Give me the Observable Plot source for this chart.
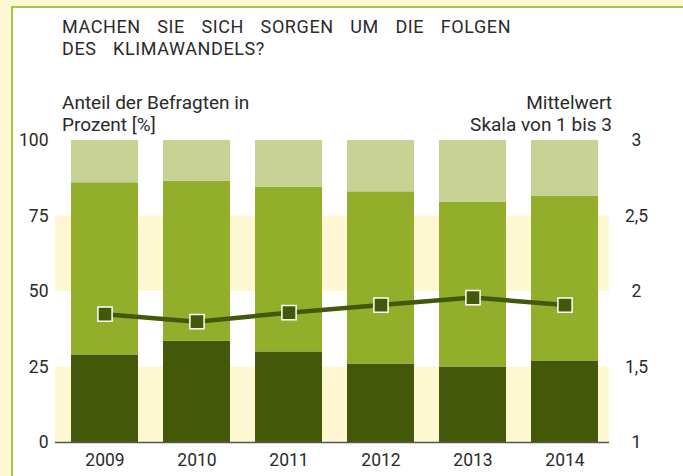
<!DOCTYPE html>
<html><head><meta charset="utf-8">
<script src="https://cdn.jsdelivr.net/npm/d3@7"></script>
<script src="https://cdn.jsdelivr.net/npm/@observablehq/plot@0.6"></script>
<style>
body{margin:0;background:#fdf8d2;width:683px;height:476px;overflow:hidden;position:relative;font-family:"Roboto",sans-serif;color:#2a2a2a}
#panel{position:absolute;left:11px;top:6px;width:700px;height:500px;background:#fff;border-left:2px solid #a9c24e;border-top:2px solid #a9c24e}
.t{position:absolute;white-space:nowrap}
#chart{position:absolute;left:0;top:0}
</style></head><body>
<div id="panel"></div>
<div class="t" style="left:62px;top:16px;font-size:18px;line-height:22px;letter-spacing:0.6px;word-spacing:11.5px">MACHEN SIE SICH SORGEN UM DIE FOLGEN<br>DES KLIMAWANDELS?</div>
<div class="t" style="left:62px;top:92px;font-size:19px;line-height:22px">Anteil der Befragten in<br>Prozent [%]</div>
<div class="t" style="right:71px;top:92px;font-size:19px;line-height:22px;text-align:right">Mittelwert<br>Skala von 1 bis 3</div>
<div id="chart"></div>
<script>
const years = ["2009","2010","2011","2012","2013","2014"];
const shareLow = [29, 33.5, 30, 26, 25, 27];
const shareMid = [57, 53, 54.5, 57, 54.5, 54.5];
const shareTop = [14, 13.5, 15.5, 17, 20.5, 18.5];
const means = [1.85, 1.80, 1.86, 1.91, 1.96, 1.91];
const leftTicks = [0, 25, 50, 75, 100];
const rightTickLabels = ["1", "1,5", "2", "2,5", "3"];
const groups = ["Stufe 1", "Stufe 2", "Stufe 3"];
const colors = ["#44580a", "#93ae2b", "#c6d193"];
const bandLo = [0, 50];
const bandHi = [25, 75];

const rows = [];
years.forEach((y, i) => {
  [shareLow, shareMid, shareTop].forEach((arr, k) => rows.push({year: y, group: groups[k], value: arr[i]}));
});
const meanRows = years.map((y, i) => ({year: y, mean: means[i]}));
const toPct = m => (m - 1) * 50;
const bands = bandLo.map((lo, i) => ({lo, hi: bandHi[i]}));

const chart = Plot.plot({
  width: 683, height: 476,
  marginLeft: 55, marginRight: 74, marginTop: 140, marginBottom: 34,
  style: {background: "transparent", fontFamily: '"Roboto",sans-serif', fontSize: "17.5px", color: "#2a2a2a", overflow: "visible"},
  x: {type: "band", domain: years, paddingInner: 0.27, paddingOuter: 0.12, align: 0.59, label: null},
  y: {domain: [0, 100], label: null},
  color: {domain: groups, range: colors},
  marks: [
    Plot.rect(bands, {y1: "lo", y2: "hi", fill: "#fdf8d2"}),
    Plot.barY(rows, {x: "year", y: "value", fill: "group", order: groups}),
    Plot.line(meanRows, {x: "year", y: d => toPct(d.mean), stroke: "#44580a", strokeWidth: 4.5}),
    Plot.dot(meanRows, {x: "year", y: d => toPct(d.mean), symbol: "square", r: 8, fill: "#44580a", stroke: "white", strokeWidth: 1.5}),
    Plot.axisY({anchor: "left", ticks: leftTicks, tickSize: 0, tickPadding: 7, label: null, line: true, stroke: "#333"}),
    Plot.axisY({anchor: "right", ticks: leftTicks, tickFormat: d => rightTickLabels[leftTicks.indexOf(d)], tickSize: 0, tickPadding: 27, textAnchor: "middle", label: null, line: true, stroke: "#777"}),
    Plot.axisX({tickSize: 0, tickPadding: 11, label: null}),
    Plot.ruleY([0], {stroke: "#555", strokeWidth: 1.5})
  ]
});
document.getElementById("chart").appendChild(chart);
</script>
</body></html>
